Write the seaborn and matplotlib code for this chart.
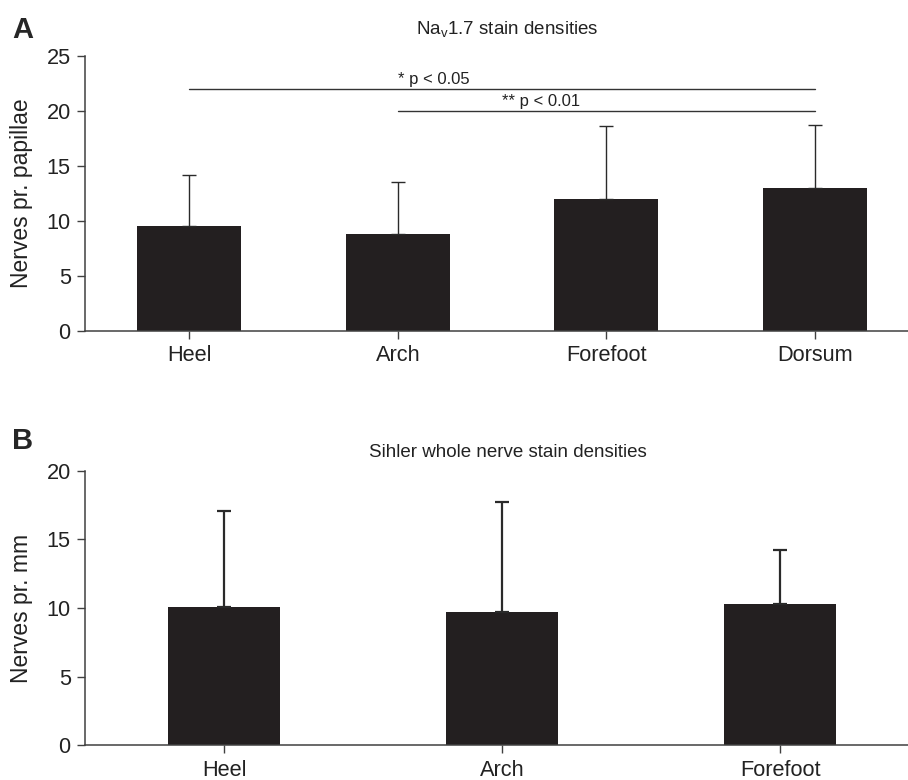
import numpy as np
import pandas as pd
import matplotlib
matplotlib.use("Agg")
import matplotlib.pyplot as plt
import seaborn as sns

# ---- data ----
cats_a = ["Heel", "Arch", "Forefoot", "Dorsum"]
mean_a = [9.5, 8.75, 11.95, 12.95]
sd_a = [4.7, 4.75, 6.65, 5.75]

cats_b = ["Heel", "Arch", "Forefoot"]
mean_b = [10.05, 9.7, 10.3]
sd_b = [7.05, 8.0, 3.95]

sig_from = ["Heel", "Arch"]
sig_to = ["Dorsum", "Dorsum"]
sig_level = [22, 20]
sig_text = ["* p < 0.05", "** p < 0.01"]

title_a = r"Na$_\mathregular{v}$1.7 stain densities"
title_b = "Sihler whole nerve stain densities"
ylabel_a = "Nerves pr. papillae"
ylabel_b = "Nerves pr. mm"

sns.set_style("ticks")
plt.rcParams["font.family"] = ["Liberation Sans", "DejaVu Sans"]
plt.rcParams["mathtext.fontset"] = "custom"
plt.rcParams["mathtext.rm"] = "Liberation Sans"

bar_col = "#231F20"
ax_col = "#404040"

fig = plt.figure(figsize=(9.08, 7.8), dpi=100)
ax_a = fig.add_axes([85 / 908, 1 - 330.5 / 780, 823 / 908, 274.5 / 780])
ax_b = fig.add_axes([85 / 908, 1 - 745.3 / 780, 823 / 908, 274.6 / 780])


def panel(ax, cats, means, sds, width, ylim, yticks, ylabel, elw, xr):
    df = pd.DataFrame({"cat": cats, "val": means})
    sns.barplot(data=df, x="cat", y="val", color=bar_col, width=width,
                errorbar=None, saturation=1, ax=ax, edgecolor=bar_col, linewidth=0)
    pos = np.arange(len(cats))
    ax.errorbar(pos, means, yerr=[np.zeros(len(cats)), sds], fmt="none",
                ecolor="#2a2a2a", elinewidth=elw, capsize=5, capthick=elw, zorder=3)
    ax.set_xlim(-0.5, xr)
    ax.set_ylim(*ylim)
    ax.set_yticks(yticks)
    ax.set_xlabel("")
    ax.set_ylabel(ylabel, fontsize=16.5, color="#222222")
    ax.yaxis.set_label_coords(-0.063, 0.5)
    for s in ["top", "right"]:
        ax.spines[s].set_visible(False)
    for s in ["left", "bottom"]:
        ax.spines[s].set_color(ax_col)
        ax.spines[s].set_linewidth(1.1)
    ax.tick_params(axis="both", labelsize=15.7, colors=ax_col, labelcolor="#222222",
                   length=6, width=1.0, pad=4.3)


panel(ax_a, cats_a, mean_a, sd_a, 0.5, (0, 25), [0, 5, 10, 15, 20, 25], ylabel_a, 1.0, 3.447)
panel(ax_b, cats_b, mean_b, sd_b, 0.4, (0, 20), [0, 5, 10, 15, 20], ylabel_b, 1.6, 2.46)

# significance lines
for f, t, lvl, txt in zip(sig_from, sig_to, sig_level, sig_text):
    x0 = cats_a.index(f)
    x1 = cats_a.index(t)
    ax_a.plot([x0, x1], [lvl, lvl], color="#333333", lw=1.0, clip_on=False)
    tx = 1.0 if f == "Heel" else 1.5
    ax_a.text(tx, lvl + 0.2, txt, fontsize=12, ha="left", va="bottom", color="#222222")

fig.text(507.5 / 908, 1 - 34.3 / 780, title_a, fontsize=13.5, ha="center",
         va="baseline", color="#222222")
fig.text(508.3 / 908, 1 - 457.3 / 780, title_b, fontsize=13.5, ha="center",
         va="baseline", color="#222222")
fig.text(12 / 908, 1 - 16 / 780, "A", fontsize=21, fontweight="bold", ha="left", va="top")
fig.text(12 / 908, 1 - 427 / 780, "B", fontsize=21, fontweight="bold", ha="left", va="top")

fig.savefig("out.png", dpi=100, facecolor="white")
